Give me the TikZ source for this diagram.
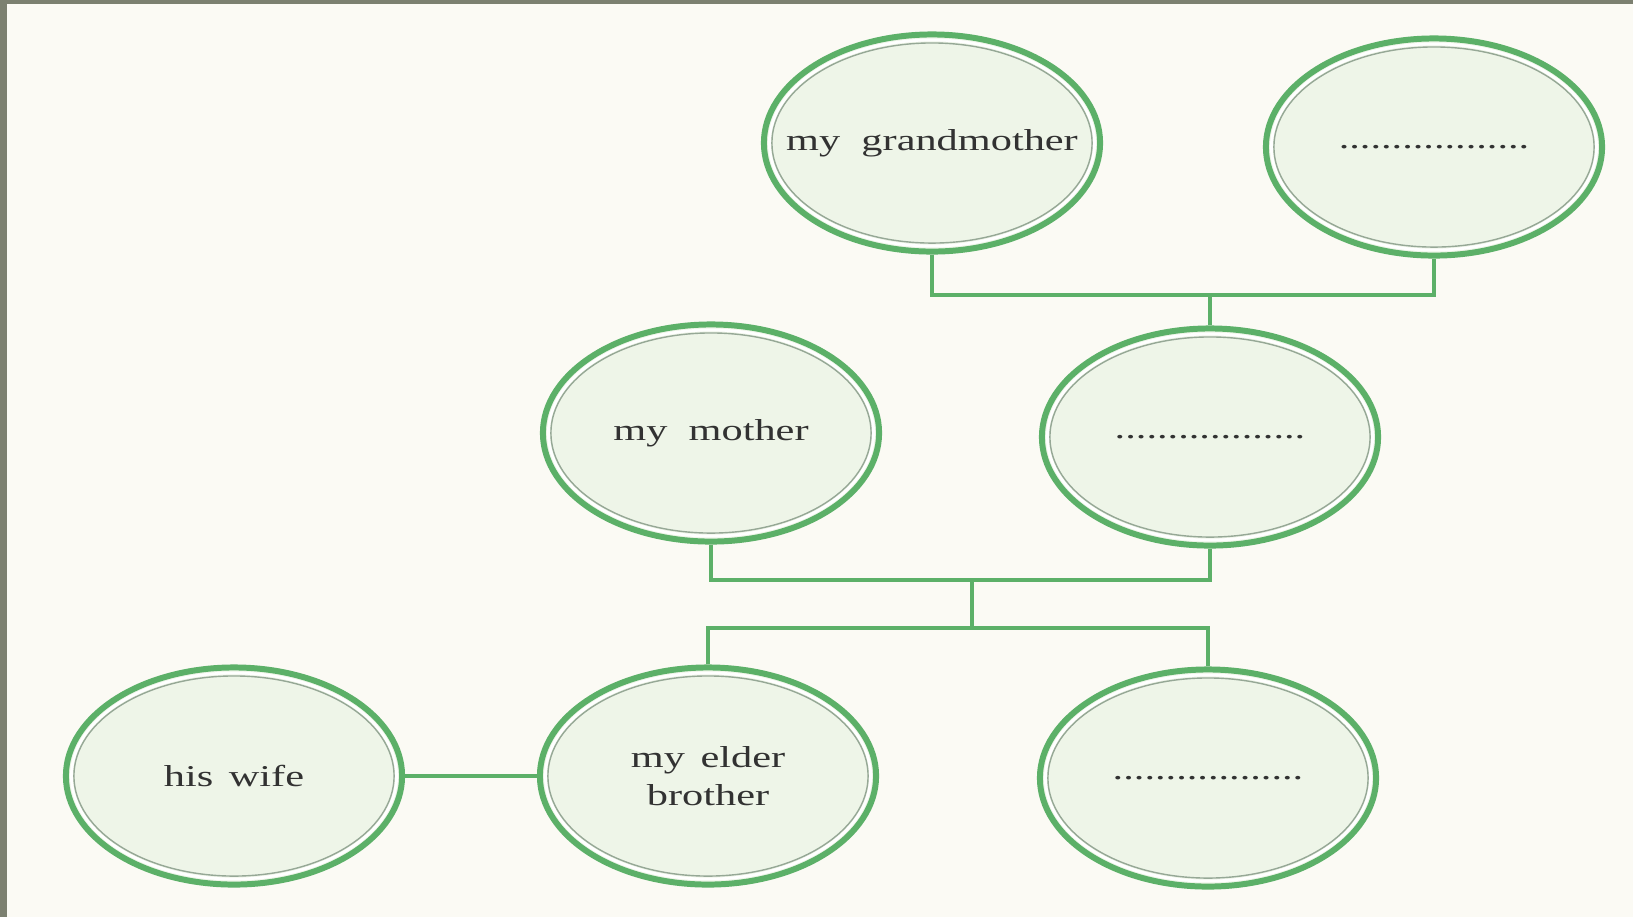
\documentclass[tikz,border=0pt]{standalone}
\usepackage{fontspec}
\setmainfont{Liberation Serif}
\newfontfamily\labelfont[FakeStretch=1.40]{Liberation Serif}
\usetikzlibrary{shapes.geometric}

\definecolor{ringgreen}{RGB}{92,176,104}
\definecolor{fillgreen}{RGB}{238,245,232}
\definecolor{innerline}{RGB}{150,168,150}
\definecolor{paper}{RGB}{251,250,244}
\definecolor{frame}{RGB}{124,128,112}
\definecolor{textgrey}{RGB}{50,50,50}

\tikzset{
  person/.style={ellipse, draw=ringgreen, line width=1.7pt, fill=fillgreen,
    minimum width=3.36cm, minimum height=2.17cm, inner sep=0pt, align=center,
    text=textgrey, font=\labelfont\fontsize{8.6}{10.9}\selectfont},
  gap ring/.style={draw=white, line width=0.8pt},
  inner ring/.style={draw=innerline, line width=0.4pt},
  link/.style={draw=ringgreen, line width=1.4pt}
}

\begin{document}
\begin{tikzpicture}[x=0.01cm, y=-0.01cm]
\useasboundingbox (0,0) rectangle (1633,917);
\fill[paper] (0,0) rectangle (1633,917);
\fill[frame] (0,0) rectangle (7,917);
\fill[frame] (0,0) rectangle (1633,4);

% grandparents
\node[person] (grandmother) at (932,143) {\makebox[0pt]{my~~grandmother}};
\node[person] (grandfather) at (1434,147) {..................};

% parents
\node[person] (mother) at (711,433) {my~~mother};
\node[person] (father) at (1210,437) {..................};

% children
\node[person] (wife) at (234,776) {his~\,wife};
\node[person] (brother) at (708,776) {my~\,elder\\brother};
\node[person] (myself) at (1208,778) {..................};

\foreach \n in {grandmother, grandfather, mother, father, wife, brother, myself} {
  \draw[gap ring] (\n.center) ellipse [x radius=1.625cm, y radius=1.03cm];
  \draw[inner ring] (\n.center) ellipse [x radius=1.60cm, y radius=1.00cm];
}

\coordinate (top bar) at (1210,295);
\coordinate (mid bar) at (972,580);
\coordinate (low bar) at (972,628);

\draw[link] (grandmother.south) |- (top bar) -| (grandfather.south);
\draw[link] (top bar) -- (father.north);

\draw[link] (mother.south) |- (mid bar) -| (father.south);
\draw[link] (mid bar) -- (low bar);
\draw[link] (brother.north) |- (low bar) -| (myself.north);

\draw[link] (wife) -- (brother);
\end{tikzpicture}
\end{document}
